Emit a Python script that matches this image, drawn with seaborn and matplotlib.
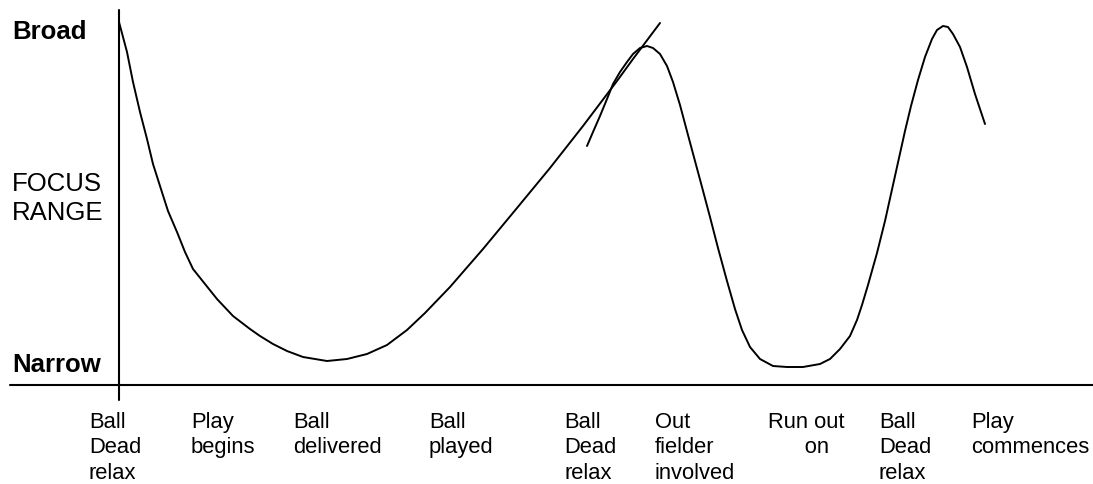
import matplotlib
matplotlib.use("Agg")
import matplotlib.pyplot as plt
import seaborn as sns

# Schematic chart: positions are in picture units (x right, y down)
WIDTH, HEIGHT = 1093, 485

# Main focus curve: broad at ball dead, narrow at delivery, broad again
main_x = [119, 127, 133, 140, 147, 153, 160, 168, 177, 185, 193, 205, 217, 233,
          250, 260, 273, 287, 303, 327, 347, 367, 387, 407, 425, 450, 483, 517,
          550, 583, 617, 633, 660]
main_y = [23, 53, 83, 113, 140, 165, 187, 212, 233, 253, 270, 285, 300, 317,
          330, 337, 345, 352, 358, 362, 360, 355, 346, 331, 314, 288, 250, 209,
          169, 127, 82, 60, 24]

# Second curve: out fielder involved, run out, ball dead, play commences
second_x = [587, 593, 600, 607, 613, 620, 627, 633, 640, 647, 653, 660, 667,
            673, 680, 688, 695, 702, 710, 718, 727, 735, 742, 750, 760, 773,
            787, 803, 820, 830, 840, 850, 857, 862, 868, 877, 885, 893, 899,
            905, 911, 918, 925, 932, 937, 943, 948, 953, 960, 967, 975, 985]
second_y = [147, 133, 117, 100, 85, 73, 63, 55, 49, 47, 49, 55, 67,
            83, 106, 136, 162, 188, 218, 249, 282, 310, 331, 348, 360, 367,
            368, 368, 365, 360, 350, 337, 321, 306, 286, 254, 222, 186, 159,
            132, 107, 81, 58, 40, 31, 27, 28, 35, 48, 68, 95, 125]

# Event labels along the horizontal axis
event_labels = ["Ball\nDead\nrelax", "Play\nbegins", "Ball\ndelivered",
                "Ball\nplayed", "Ball\nDead\nrelax", "Out\nfielder\ninvolved",
                "Run out\n      on", "Ball\nDead\nrelax", "Play\ncommences"]
event_x = [89, 191, 293, 429, 564, 655, 768, 879, 971]

sns.set_style("white")
plt.rcParams["font.family"] = ["Liberation Sans", "DejaVu Sans"]
plt.rcParams["text.color"] = "black"

fig = plt.figure(figsize=(WIDTH / 100, HEIGHT / 100), dpi=100)
ax = fig.add_axes([0, 0, 1, 1])

sns.lineplot(x=main_x, y=main_y, sort=False, estimator=None,
             color="black", lw=1.4, ax=ax)
sns.lineplot(x=second_x, y=second_y, sort=False, estimator=None,
             color="black", lw=1.4, ax=ax)

# axes drawn as plain lines
ax.plot([119, 119], [11, 401], color="black", lw=1.5)
ax.plot([10, WIDTH], [386, 386], color="black", lw=1.5)

ax.text(12, 39, "Broad", fontsize=18.5, fontweight="bold", va="baseline")
ax.text(12, 172, "FOCUS\nRANGE", fontsize=18.5, va="top", linespacing=1.27)
ax.text(12, 372, "Narrow", fontsize=18.5, fontweight="bold", va="baseline")

for lab, xp in zip(event_labels, event_x):
    ax.text(xp, 412, lab, fontsize=15.8, va="top", ha="left", linespacing=1.27)

ax.set_xlim(0, WIDTH)
ax.set_ylim(HEIGHT, 0)
ax.set_axis_off()

fig.savefig("out.png", dpi=100, facecolor="white")
